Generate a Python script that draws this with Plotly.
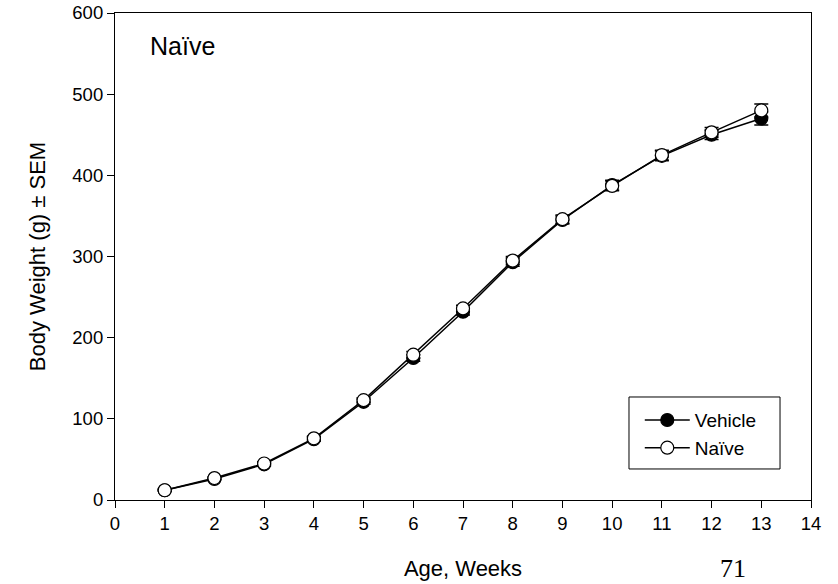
import plotly.graph_objects as go

weeks = [1, 2, 3, 4, 5, 6, 7, 8, 9, 10, 11, 12, 13]
vehicle = [12, 26, 44, 75, 121, 175, 232, 293, 345, 388, 424, 450, 470]
vehicle_sem = [1, 1.5, 2, 2.5, 3, 4, 4, 5, 5, 6, 6, 6, 8]
naive = [12, 27, 45, 76, 123, 179, 236, 295, 346, 387, 425, 453, 480]
naive_sem = [1, 1.5, 2, 2.5, 3, 4, 4, 5, 5, 6, 6, 6, 8]

fig = go.Figure()
fig.add_trace(go.Scatter(
    x=weeks, y=vehicle, name="Vehicle", mode="lines+markers",
    line=dict(color="black", width=1.5),
    marker=dict(symbol="circle", size=13, color="black", line=dict(color="black", width=1.2)),
    error_y=dict(type="data", array=vehicle_sem, color="black", thickness=1.5, width=7),
))
fig.add_trace(go.Scatter(
    x=weeks, y=naive, name="Naïve", mode="lines+markers",
    line=dict(color="black", width=1.5),
    marker=dict(symbol="circle", size=13, color="white", line=dict(color="black", width=1.2)),
    error_y=dict(type="data", array=naive_sem, color="black", thickness=1.5, width=7),
))

axis_common = dict(
    showline=True, linecolor="black", linewidth=1.2, mirror=True,
    ticks="outside", ticklen=7, tickcolor="black", tickwidth=1,
    showgrid=False, zeroline=False, automargin=False,
    tickfont=dict(family="Arial, Liberation Sans", size=18.5, color="black"),
)

fig.update_layout(
    width=838, height=584,
    margin=dict(l=115, r=27, t=13, b=84),
    paper_bgcolor="white", plot_bgcolor="white",
    font=dict(family="Arial, Liberation Sans", color="black"),
    xaxis=dict(range=[0, 14], dtick=1, tick0=0,
               title=dict(text="Age, Weeks", font=dict(size=22), standoff=27), **axis_common),
    yaxis=dict(range=[0, 600], dtick=100, tick0=0,
               title=dict(text="Body Weight (g) ± SEM", font=dict(size=22), standoff=20), **axis_common),
    legend=dict(x=0.754, y=0.203, xanchor="left", yanchor="top",
                borderwidth=0, bgcolor="rgba(0,0,0,0)",
                font=dict(size=19, family="Arial, Liberation Sans"),
                itemwidth=45, tracegroupgap=0),
    showlegend=True,
    shapes=[
        dict(type="rect", xref="paper", yref="paper", x0=0.7385, x1=0.9555,
             y0=0.0637, y1=0.2115, line=dict(color="black", width=1), fillcolor="white",
             layer="below"),
    ],
    annotations=[
        dict(text="Naïve", xref="paper", yref="paper", x=0.047, y=0.932,
             xanchor="left", yanchor="middle", showarrow=False,
             font=dict(size=25, family="Arial, Liberation Sans", color="black")),
        dict(text="71", xref="paper", yref="paper", x=0.888, y=-0.14,
             xanchor="center", yanchor="middle", showarrow=False,
             font=dict(size=26, family="Liberation Serif, Times New Roman", color="black")),
    ],
)

fig.write_html("out.html")
